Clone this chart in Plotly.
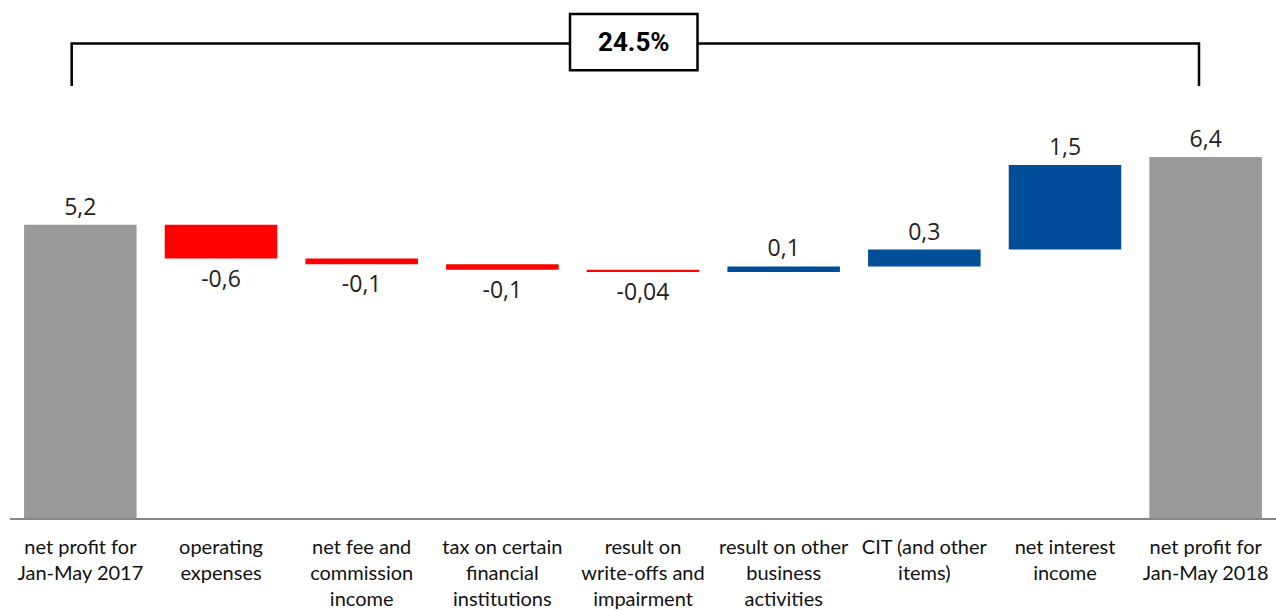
import plotly.graph_objects as go

# Net profit bridge, Jan-May 2017 -> Jan-May 2018 (bn)
categories = [
    "net profit for Jan-May 2017",
    "operating expenses",
    "net fee and commission income",
    "tax on certain financial institutions",
    "result on write-offs and impairment",
    "result on other business activities",
    "CIT (and other items)",
    "net interest income",
    "net profit for Jan-May 2018",
]
tick_labels = [
    "net profit for<br>Jan-May 2017",
    "operating<br>expenses",
    "net fee and<br>commission<br>income",
    "tax on certain<br>financial<br>institutions",
    "result on<br>write-offs and<br>impairment",
    "result on other<br>business<br>activities",
    "CIT (and other<br>items)",
    "net interest<br>income",
    "net profit for<br>Jan-May 2018",
]
values = [5.2, -0.6, -0.1, -0.1, -0.04, 0.1, 0.3, 1.5, 6.4]
measures = ["absolute"] + ["relative"] * 7 + ["absolute"]
change_label = "24.5%"

GREY = "#999999"
RED = "#FF0000"
BLUE = "#004E9A"


def fmt(v):
    return f"{v:g}".replace(".", ",")


fig = go.Figure(
    go.Waterfall(
        x=categories,
        y=values,
        measure=measures,
        text=[fmt(v) for v in values],
        textposition="outside",
        textfont=dict(family="Open Sans", size=23, color="#222222"),
        totals=dict(marker=dict(color=GREY)),
        decreasing=dict(marker=dict(color=RED)),
        increasing=dict(marker=dict(color=BLUE)),
        connector=dict(visible=False),
        cliponaxis=False,
        hoverinfo="skip",
    )
)

# Bracket spanning the two net-profit bars with the year-on-year change
L, R, T, B = 10, 0, 100, 89
W, H = 1276 - L - R, 610 - T - B


def px(xp):
    return (xp - L) / W


def py(yp):
    return (610 - B - yp) / H


line = dict(color="black", width=2.5)
fig.add_shape(type="path", xref="paper", yref="paper",
              path=f"M {px(71.7)},{py(86)} L {px(71.7)},{py(43)} L {px(1199)},{py(43)} L {px(1199)},{py(86)}",
              line=line)
fig.add_shape(type="rect", xref="paper", yref="paper",
              x0=px(570), x1=px(697.5), y0=py(70), y1=py(13.5),
              line=line, fillcolor="white")
fig.add_annotation(xref="paper", yref="paper", x=px(633.7), y=py(41.7),
                   text=f"<b>{change_label}</b>", showarrow=False,
                   font=dict(family="Roboto", size=26, color="black"),
                   xanchor="center", yanchor="middle")

fig.update_layout(
    width=1276,
    height=610,
    margin=dict(l=L, r=R, t=T, b=B),
    paper_bgcolor="white",
    plot_bgcolor="white",
    showlegend=False,
    bargap=0.21,
    xaxis=dict(
        tickmode="array",
        tickvals=categories,
        ticktext=tick_labels,
        tickfont=dict(family="Lato", size=20, color="#111111"),
        ticklabelstandoff=10,
        showline=True,
        linecolor="#878787",
        linewidth=2,
        ticks="",
        showgrid=False,
        zeroline=False,
    ),
    yaxis=dict(
        range=[0, H / 56.8],
        visible=False,
        showgrid=False,
        zeroline=False,
    ),
)

fig.write_html("out.html")
